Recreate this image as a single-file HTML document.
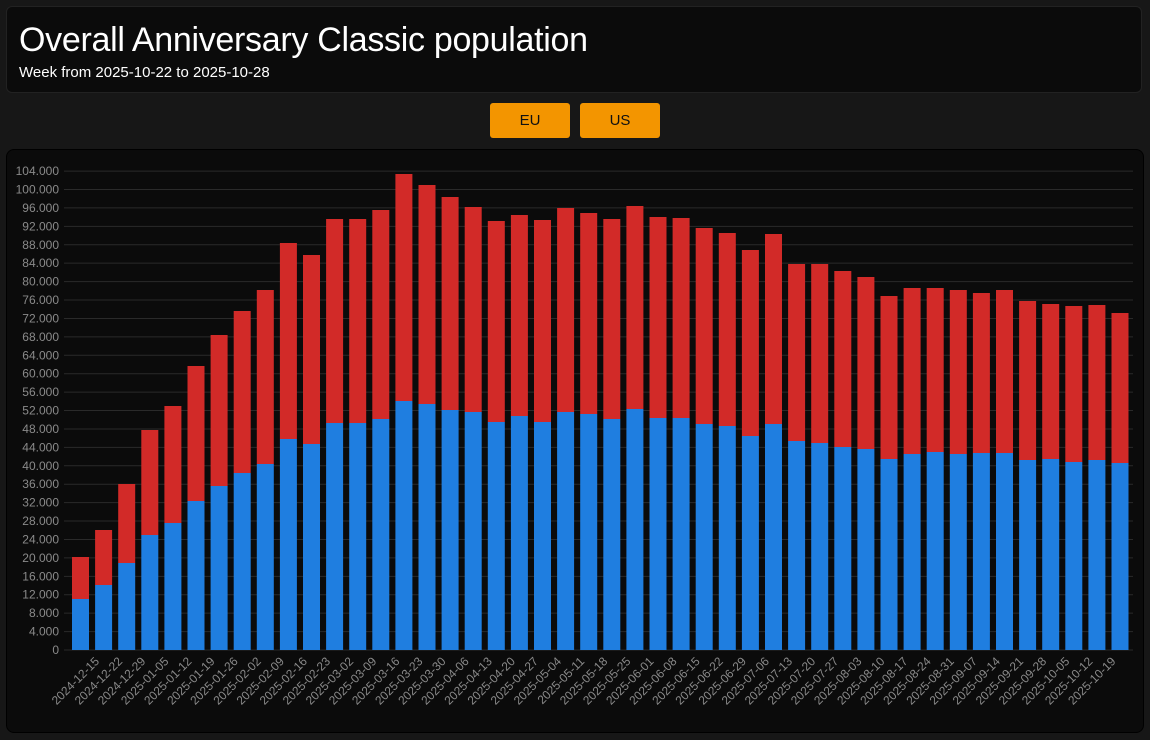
<!DOCTYPE html>
<html><head><meta charset="utf-8"><style>
body{margin:0;width:1150px;height:740px;background:#171717;font-family:"Liberation Sans",sans-serif;overflow:hidden;position:relative}
.hdr{position:absolute;left:6px;top:6px;width:1136px;height:87px;background:#0b0b0b;border-radius:6px;border:1px solid #222;box-sizing:border-box}
.t{position:absolute;left:12px;top:14px;color:#fff;font-size:34px;letter-spacing:-0.3px}
.s{position:absolute;left:12px;top:57px;color:#fff;font-size:15px}
.b{position:absolute;top:103px;width:80px;height:35px;background:#f39500;border-radius:3px;color:#111;font-size:15px;text-align:center;line-height:35px}
.panel{position:absolute;left:6px;top:149px;width:1138px;height:584px;background:#0b0b0b;border:1px solid #000;border-radius:8px;box-sizing:border-box}
svg{position:absolute;left:0;top:0}
</style></head><body>
<div class="hdr"><div class="t">Overall Anniversary Classic population</div><div class="s">Week from 2025-10-22 to 2025-10-28</div></div>
<div class="b" style="left:490px">EU</div><div class="b" style="left:580px">US</div>
<div class="panel"></div>
<svg id="c" width="1150" height="740" xmlns="http://www.w3.org/2000/svg"></svg>
<script>
var tops=[[557,599],[530,585],[484,563],[430,535],[406,523],[366,501],[335,486],[311,473],[290,464],[243,439],[255,444],[219,423],[219,423],[210,419],[174,401],[185,404],[197,410],[207,412],[221,422],[215,416],[220,422],[208,412],[213,414],[219,419],[206,409],[217,418],[218,418],[228,424],[233,426],[250,436],[234,424],[264,441],[264,443],[271,447],[277,449],[296,459],[288,454],[288,452],[290,454],[293,453],[290,453],[301,460],[304,459],[306,462],[305,460],[313,463]];
var s='';var y0=650,step=18.42;
for(var i=0;i<=26;i++){var y=y0-i*step;s+='<line x1="64" x2="1133" y1="'+y+'" y2="'+y+'" stroke="#2a2a2a" stroke-width="1"/>';
var v=i*4000;var lab=v==0?'0':(Math.floor(v/1000)+'.000');
s+='<text x="59" y="'+(y+4)+'" fill="#8a8a8a" font-size="12" text-anchor="end" font-family="Liberation Sans">'+lab+'</text>';}
var d=new Date(Date.UTC(2024,11,15));
for(var i=0;i<46;i++){var x=72+i*23.1;var t=tops[i];
s+='<rect x="'+x+'" y="'+t[0]+'" width="17" height="'+(t[1]-t[0])+'" fill="#d22a28"/>';
s+='<rect x="'+x+'" y="'+t[1]+'" width="17" height="'+(y0-t[1])+'" fill="#1f7ee0"/>';}
for(var k=0;k<45;k++){
var dd=new Date(d.getTime()+k*7*86400000);var ls=dd.toISOString().slice(0,10);
var cx=72+k*23.1+28,cy=662;
s+='<text x="'+cx+'" y="'+cy+'" fill="#8a8a8a" font-size="12" text-anchor="end" transform="rotate(-45 '+cx+' '+cy+')" font-family="Liberation Sans">'+ls+'</text>';}
document.getElementById('c').innerHTML=s;
</script>
</body></html>
